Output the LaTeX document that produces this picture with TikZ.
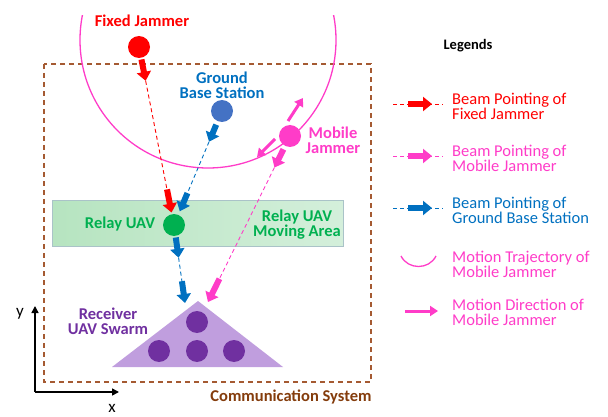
\documentclass[tikz,border=0pt]{standalone}
\usepackage{fontspec}
\setmainfont{Carlito}
\usetikzlibrary{arrows.meta,calc}

\definecolor{jred}{RGB}{255,0,0}
\definecolor{jpink}{RGB}{255,60,200}
\definecolor{gblue}{RGB}{0,112,192}
\definecolor{gbsdot}{RGB}{68,114,196}
\definecolor{rgreen}{RGB}{0,176,80}
\definecolor{rpurple}{RGB}{112,48,160}
\definecolor{tripurple}{RGB}{192,158,222}
\definecolor{commbrown}{RGB}{132,60,12}
\definecolor{rectbrown}{RGB}{165,90,50}
\definecolor{areaL}{RGB}{182,228,192}
\definecolor{areaM}{RGB}{125,206,144}
\definecolor{areaR}{RGB}{212,239,219}
\definecolor{areaedge}{RGB}{170,195,200}

\newcommand\lblfont{\fontsize{16.5}{15}\selectfont}

\begin{document}
\begin{tikzpicture}[x=1pt,y=-1pt,
  dot/.style={circle,inner sep=0pt,minimum size=22pt},
  lbl/.style={inner sep=0pt,align=center,font=\lblfont\bfseries},
  legtext/.style={inner sep=0pt,anchor=west,align=left,font=\lblfont},
  fat/.style={line width=6pt,-{Triangle[length=9pt,width=14pt]}},
  beam/.style={line width=0.9pt,dash pattern=on 4pt off 3pt},
  motion/.style={line width=3pt,-{Triangle[length=8pt,width=10pt]}}]
\useasboundingbox (0,0) rectangle (608,417);

% communication system frame
\draw[rectbrown,line width=1.3pt,dash pattern=on 5pt off 4pt] (44,64) rectangle (371,382);
\node[lbl,text=commbrown] (comm) at (291,397) {Communication System};

% relay moving area
\shade[left color=areaL,middle color=areaM,right color=areaR] (52,200) rectangle (343,246);
\draw[line width=0.6pt,areaedge] (52,200) rectangle (343,246);

% trajectory of the mobile jammer
\begin{scope}
  \clip (0,16) rectangle (608,417);
  \draw[jpink,line width=1.3pt] (208,40) circle[radius=128pt];
\end{scope}

% receiver swarm
\fill[tripurple] (198,301) -- (112,367) -- (283,367) -- cycle;
\coordinate (rxb) at (185,303);
\coordinate (rxp) at (208,302);
\foreach \p in {(197,322),(159,351),(197,351),(234,351)}
  \node[dot,fill=rpurple] at \p {};
\node[lbl,text=rpurple] (rxlbl) at (108,321) {Receiver\\UAV Swarm};

% main nodes
\node[dot,fill=jred] (fj) at (139,47) {};
\node[dot,fill=gbsdot] (gbs) at (222,111) {};
\node[dot,fill=jpink] (mj) at (290,136) {};
\node[dot,fill=rgreen] (relay) at (174,225) {};

\node[lbl,text=jred] (fjlbl) at (142,21) {Fixed Jammer};
\node[lbl,text=gblue] (gbslbl) at (222,85) {Ground\\Base Station};
\node[lbl,text=jpink] (mjlbl) at (333,140) {Mobile\\Jammer};
\node[lbl,text=rgreen] (relaylbl) at (120,224) {Relay UAV};
\node[lbl,text=rgreen] (arealbl) at (297,225) {Relay UAV\\Moving Area};

% fixed jammer beam
\draw[beam,jred] ($(fj)!0.19!(relay)$) -- ($(fj)!0.80!(relay)$);
\draw[fat,jred] ($(fj)!0.07!(relay)$) -- ($(fj)!0.19!(relay)$);
\draw[fat,jred] ($(fj)!0.80!(relay)$) -- ($(fj)!0.93!(relay)$);

% ground base station beam
\draw[beam,gblue] ($(gbs)!0.27!(relay)$) -- ($(gbs)!0.72!(relay)$);
\draw[fat,gblue] ($(gbs)!0.12!(relay)$) -- ($(gbs)!0.27!(relay)$);
\draw[fat,gblue] ($(gbs)!0.72!(relay)$) -- ($(gbs)!0.88!(relay)$);

% relay to receivers
\draw[beam,gblue] ($(relay)!0.42!(rxb)$) -- ($(relay)!0.72!(rxb)$);
\draw[fat,gblue] ($(relay)!0.16!(rxb)$) -- ($(relay)!0.42!(rxb)$);
\draw[fat,gblue] ($(relay)!0.72!(rxb)$) -- (rxb);

% mobile jammer beam
\draw[beam,jpink] ($(mj)!0.19!(rxp)$) -- ($(mj)!0.86!(rxp)$);
\draw[fat,jpink] ($(mj)!0.08!(rxp)$) -- ($(mj)!0.19!(rxp)$);
\draw[fat,jpink] ($(mj)!0.86!(rxp)$) -- (rxp);

% motion directions of the mobile jammer
\coordinate (mjup) at (303,98);
\coordinate (mjdown) at (257,157);
\draw[motion,jpink] ($(mj)+(-2,-15)$) -- (mjup);
\draw[motion,jpink] ($(mj)+(-15,3)$) -- (mjdown);

% axes
\coordinate (orig) at (35,392);
\coordinate (yend) at (35,306);
\coordinate (xend) at (119,392);
\draw[line width=1.6pt,-{Triangle[length=7pt,width=7pt]}] (orig) -- (yend);
\draw[line width=1.6pt,-{Triangle[length=7pt,width=7pt]}] (orig) -- (xend);
\node[font=\fontsize{17}{17}\selectfont,inner sep=0pt] (ylbl) at (20,314) {y};
\node[font=\fontsize{17}{17}\selectfont,inner sep=0pt] (xlbl) at (112,408) {x};

% legend
\node[font=\fontsize{14.5}{15}\selectfont\bfseries,inner sep=0pt] (leg) at (468,46) {Legends};

\coordinate (l1a) at (393,104); \coordinate (l1b) at (443,104);
\draw[beam,jred] (l1a) -- (l1b);
\draw[fat,jred] (408,104) -- (432,104);
\node[legtext,text=jred] (l1t) at (452,106) {Beam Pointing of\\Fixed Jammer};

\coordinate (l2a) at (393,156); \coordinate (l2b) at (443,156);
\draw[beam,jpink] (l2a) -- (l2b);
\draw[fat,jpink] (408,156) -- (432,156);
\node[legtext,text=jpink] (l2t) at (452,158) {Beam Pointing of\\Mobile Jammer};

\coordinate (l3a) at (393,208); \coordinate (l3b) at (443,208);
\draw[beam,gblue] (l3a) -- (l3b);
\draw[fat,gblue] (408,208) -- (432,208);
\node[legtext,text=gblue] (l3t) at (452,210) {Beam Pointing of\\Ground Base Station};

\coordinate (l4a) at (401,256); \coordinate (l4b) at (436,256);
\draw[jpink,line width=1.3pt] (l4a) .. controls (408,270) and (429,270) .. (l4b);
\node[legtext,text=jpink] (l4t) at (452,264) {Motion Trajectory of\\Mobile Jammer};

\coordinate (l5a) at (405,311); \coordinate (l5b) at (438,311);
\draw[motion,jpink] (l5a) -- (l5b);
\node[legtext,text=jpink] (l5t) at (452,312) {Motion Direction of\\Mobile Jammer};
\end{tikzpicture}
\end{document}
